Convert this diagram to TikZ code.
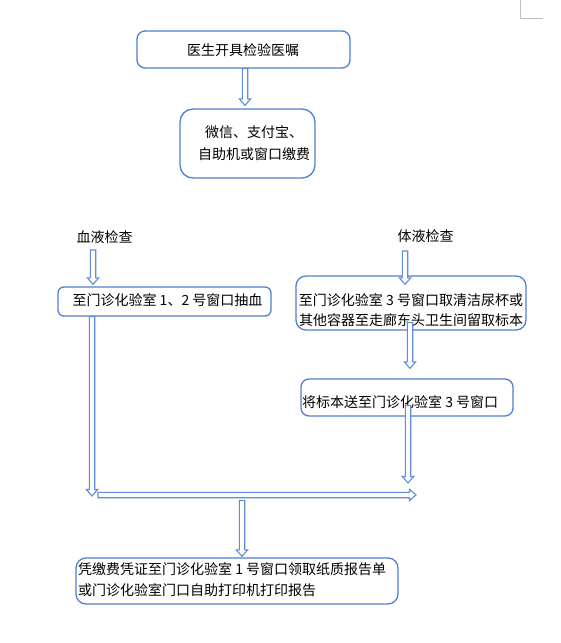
\documentclass[tikz,border=0pt]{standalone}
\usepackage{fontspec}
\setmainfont{Noto Sans CJK SC}
\usetikzlibrary{calc}
\definecolor{boxblue}{RGB}{79,129,209}
\definecolor{arrowblue}{RGB}{95,140,220}
\definecolor{markgray}{RGB}{190,190,190}
\begin{document}
\begin{tikzpicture}[x=1pt,y=-1pt,
  box/.style={draw=boxblue, line width=1.3pt, rounded corners=#1, inner sep=0pt, fill=white},
  box/.default=8pt,
  txt/.style={inner sep=0pt, font=\fontsize{14}{20}\selectfont, text=black},
  harrow/.style={draw=arrowblue, fill=white, line width=1.1pt, line join=miter,
    to path={
      ($(\tikztostart)!2.7pt!90:(\tikztotarget)$)
      -- ($(\tikztotarget)!7.04pt!-22.55:(\tikztostart)$)
      -- ($(\tikztotarget)!8.63pt!-41.2:(\tikztostart)$)
      -- (\tikztotarget)
      -- ($(\tikztotarget)!8.63pt!41.2:(\tikztostart)$)
      -- ($(\tikztotarget)!7.04pt!22.55:(\tikztostart)$)
      -- ($(\tikztostart)!2.7pt!-90:(\tikztotarget)$)
      -- cycle}}]
\useasboundingbox (0,0) rectangle (560,643);
\fill[white] (0,0) rectangle (560,643);
\draw[markgray, line width=0.8pt] (520.5,0) -- (520.5,18.5) -- (543,18.5);

% boxes
\node[box=8pt, minimum width=213pt, minimum height=37pt] (b1) at (243.5,49.5) {};
\node[box=13pt, minimum width=135pt, minimum height=69pt] (b2) at (247.5,143.5) {};
\node[box=6pt, minimum width=213pt, minimum height=29pt] (b3) at (164.5,301.5) {};
\node[box=10pt, minimum width=230pt, minimum height=54pt] (b4) at (411,303) {};
\node[box=8pt, minimum width=212pt, minimum height=37pt] (b5) at (407,397.5) {};
\node[box=10pt, minimum width=322pt, minimum height=46pt] (b6) at (237,581) {};

% texts
\node[txt] (t1) at (243,50) {医生开具检验医嘱};
\node[txt, align=center, font=\fontsize{14}{22}\selectfont] (t2) at (254,143) {微信、支付宝、\\自助机或窗口缴费};
\node[txt] (blood) at (104.5,237) {血液检查};
\node[txt] (body) at (425.5,236) {体液检查};
\node[txt] (t3) at (167.5,300) {至门诊化验室 1、2 号窗口抽血};
\node[txt, align=center] (t4) at (411,310) {至门诊化验室 3 号窗口取清洁尿杯或\\其他容器至走廊东头卫生间留取标本};
\node[txt, anchor=west] (t5) at (302,402) {将标本送至门诊化验室 3 号窗口};
\node[txt, anchor=west, align=left, font=\fontsize{14}{21}\selectfont] (t6) at (78,579.5) {凭缴费凭证至门诊化验室 1 号窗口领取纸质报告单\\或门诊化验室门口自助打印机打印报告};

% junction coordinates
\coordinate (hs) at (98,495);
\coordinate (he) at (416,495);

% arrows
\draw[harrow] ($(b1.south)+(1.5,0)$) to ($(b2.north)+(-2.5,-3)$);
\draw[harrow] ($(blood.center)+(-11.5,13)$) to ($(b3.north)+(-71.5,-2)$);
\draw[harrow] ($(body.center)+(-20.5,15)$) to ($(b4.north)+(-6,9)$);
\draw[harrow] ($(b3.south)+(-72.5,0)$) to ($(hs)+(-6,1)$);
\draw[harrow] ($(b4.south)+(-1,-8)$) to ($(b5.north)+(3,-10)$);
\draw[harrow] ($(b5.south)+(1,-11)$) to ($(he)+(-8,-12)$);
\draw[harrow] (hs) to (he);
\draw[harrow] ($(b6.north)+(5,-57)$) to ($(b6.north)+(5,-1)$);
\end{tikzpicture}
\end{document}
